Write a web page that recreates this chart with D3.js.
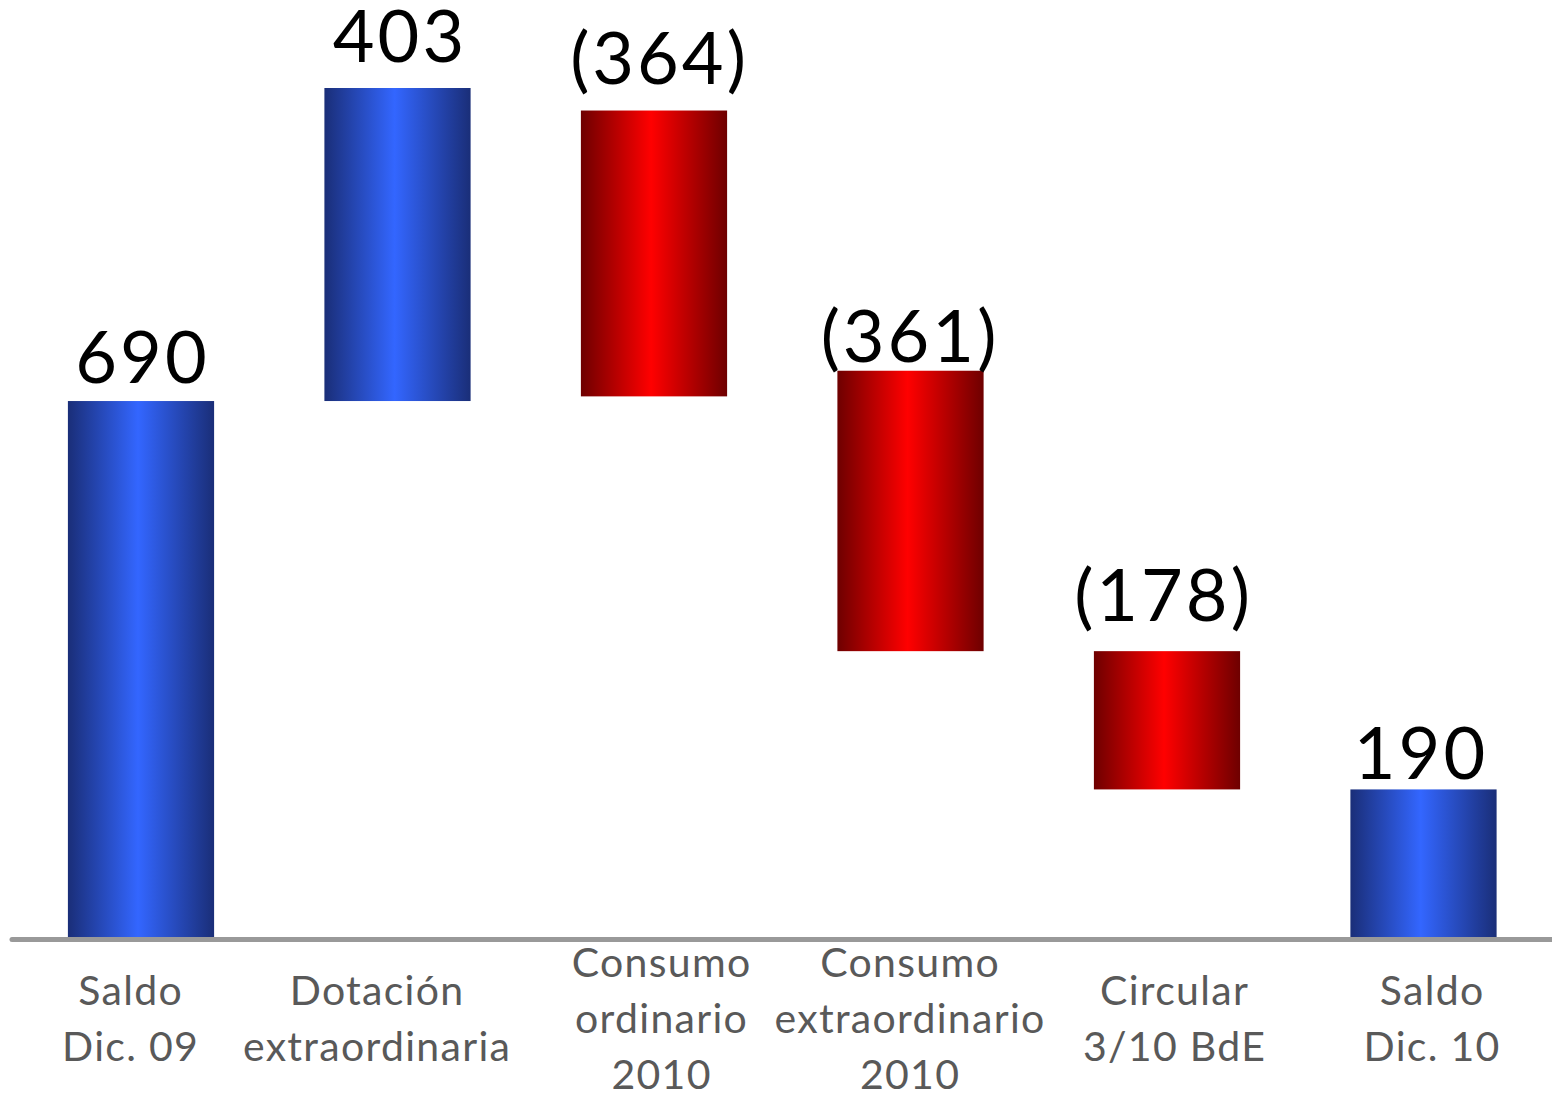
<!DOCTYPE html>
<html>
<head>
<meta charset="utf-8">
<script src="https://cdn.jsdelivr.net/npm/d3@7/dist/d3.min.js"></script>
<style>
  html, body { margin: 0; padding: 0; background: #fff; }
  svg { display: block; }
</style>
</head>
<body>
<svg id="chart" width="1552" height="1100"></svg>
<script>
// ---- data ----
const categories = [
  ["Saldo", "Dic. 09"],
  ["Dotación", "extraordinaria"],
  ["Consumo", "ordinario", "2010"],
  ["Consumo", "extraordinario", "2010"],
  ["Circular", "3/10 BdE"],
  ["Saldo", "Dic. 10"]
];
const values = [690, 403, -364, -361, -178, 190];
const valueLabels = ["690", "403", "(364)", "(361)", "(178)", "190"];
const kinds = ["total", "up", "down", "down", "down", "total"];
// floating bar extents as drawn in the reference (low / high)
const barLow  = [0, 690, 696, 368, 190, 0];
const barHigh = [690, 1093, 1064, 729, 368, 190];

// ---- style / layout config ----
const labelGap = [18, 26, 27, 9, 30, 10];
const valDx = [0, 1, 4, -2, -5, -4];
const catDx = [-11, -21, 7, -1, 7, 8];

const svg = d3.select("#chart");
const x = d3.scaleBand()
  .domain(d3.range(categories.length))
  .range([12.75, 1551.75])
  .paddingInner(0.43)
  .paddingOuter(0.215);
const y = d3.scaleLinear().domain([0, 1093]).range([937, 88]);

const defs = svg.append("defs");
function grad(id, edge, mid) {
  const g = defs.append("linearGradient").attr("id", id)
    .attr("x1", "0%").attr("x2", "100%").attr("y1", "0%").attr("y2", "0%");
  g.append("stop").attr("offset", "0%").attr("stop-color", edge);
  g.append("stop").attr("offset", "48%").attr("stop-color", mid);
  g.append("stop").attr("offset", "100%").attr("stop-color", edge);
}
grad("gBlue", "#1a2e78", "#3366ff");
grad("gRed", "#6e0000", "#ff0000");

const idx = d3.range(categories.length);

svg.append("g").selectAll("rect").data(idx).join("rect")
  .attr("x", i => x(i))
  .attr("width", x.bandwidth())
  .attr("y", i => y(barHigh[i]))
  .attr("height", i => y(barLow[i]) - y(barHigh[i]))
  .attr("fill", i => kinds[i] === "down" ? "url(#gRed)" : "url(#gBlue)");

// baseline
svg.append("line")
  .attr("x1", 12).attr("x2", 1560)
  .attr("y1", 939.5).attr("y2", 939.5)
  .attr("stroke", "#999999").attr("stroke-width", 5)
  .attr("stroke-linecap", "round");

// value labels
svg.append("g").selectAll("text").data(idx).join("text")
  .attr("x", i => x(i) + x.bandwidth() / 2 + 1.5 + valDx[i])
  .attr("y", i => y(barHigh[i]) - labelGap[i])
  .attr("text-anchor", "middle")
  .attr("font-family", "Lato, 'Open Sans', sans-serif")
  .attr("font-size", 72)
  .attr("letter-spacing", 3)
  .attr("fill", "#000")
  .text(i => valueLabels[i]);

// category labels
const lineH = 56, midY = 1033;
const cg = svg.append("g").selectAll("text").data(idx).join("text")
  .attr("text-anchor", "middle")
  .attr("font-family", "Lato, 'Open Sans', sans-serif")
  .attr("font-size", 41)
  .attr("letter-spacing", 1.3)
  .attr("fill", "#595959");
cg.each(function(i) {
  const lines = categories[i];
  const cx = x(i) + x.bandwidth() / 2 + catDx[i] + 0.6;
  const y0 = midY - (lines.length - 1) / 2 * lineH;
  d3.select(this).selectAll("tspan").data(lines).join("tspan")
    .attr("x", cx)
    .attr("y", (d, k) => y0 + k * lineH)
    .text(d => d);
});
</script>
</body>
</html>
